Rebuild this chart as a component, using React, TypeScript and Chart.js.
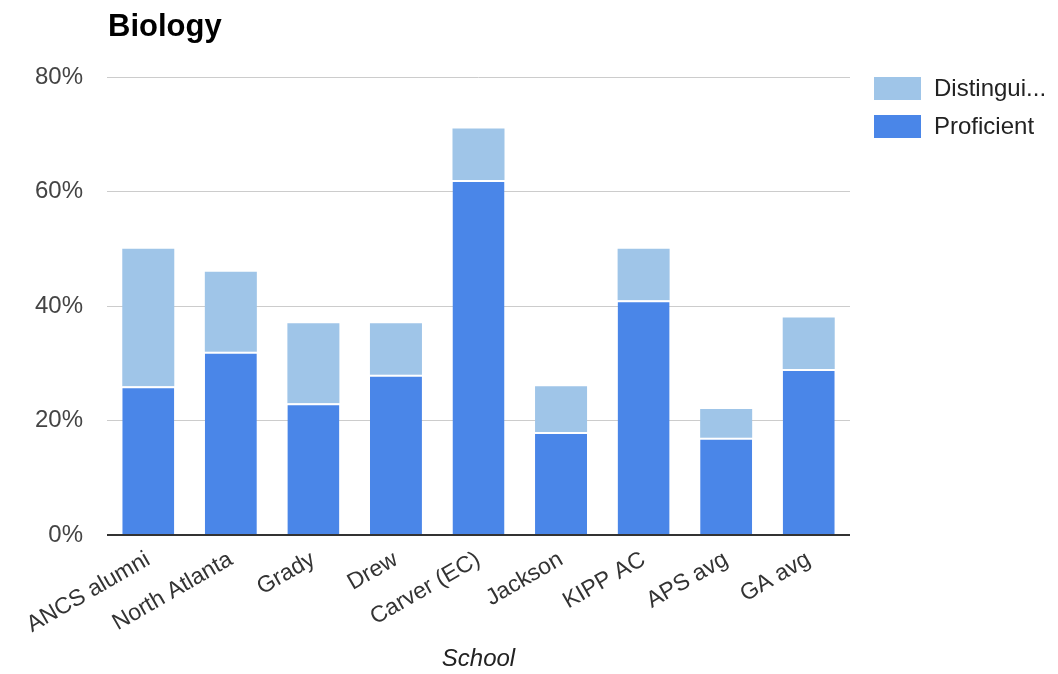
import React, { useEffect, useRef } from "react";
import { Chart, registerables } from "chart.js";

Chart.register(...registerables);

const schools = [
  "ANCS alumni",
  "North Atlanta",
  "Grady",
  "Drew",
  "Carver (EC)",
  "Jackson",
  "KIPP AC",
  "APS avg",
  "GA avg",
];
const proficient = [26, 32, 23, 28, 62, 18, 41, 17, 29];
const distinguished = [24, 14, 14, 9, 9, 8, 9, 5, 9];
const yTickValues = [0, 20, 40, 60, 80];
const chartTitle = "Biology";
const xAxisTitle = "School";
const seriesNames = ["Proficient", "Distinguished"];
const seriesColors = ["#4a86e8", "#9fc5e8"];

const FONT = '"Liberation Sans", Arial, Helvetica, sans-serif';

const overlayPlugin = {
  id: "overlay",
  afterDraw(chart: any) {
    const ctx = chart.ctx;
    const area = chart.chartArea;
    ctx.save();
    // title
    ctx.fillStyle = "#000";
    ctx.font = `bold 31px ${FONT}`;
    ctx.textAlign = "left";
    ctx.textBaseline = "alphabetic";
    ctx.fillText(chartTitle, area.left + 1, 36);

    // legend (reverse dataset order)
    const ds = chart.data.datasets;
    const boxX = area.right + 24;
    const boxW = 47;
    const boxH = 23;
    const textX = boxX + 60;
    const maxW = chart.width - textX - 4;
    ctx.font = `24px ${FONT}`;
    for (let i = ds.length - 1, row = 0; i >= 0; i--, row++) {
      const y = area.top + row * 38;
      ctx.fillStyle = ds[i].backgroundColor;
      ctx.fillRect(boxX, y, boxW, boxH);
      let label = String(ds[i].label);
      if (ctx.measureText(label).width > maxW) {
        while (label.length > 1 && ctx.measureText(label + "...").width > maxW) {
          label = label.slice(0, -1);
        }
        label = label + "...";
      }
      ctx.fillStyle = "#222";
      ctx.textBaseline = "middle";
      ctx.fillText(label, textX, y + boxH / 2 + 1);
    }
    ctx.restore();
  },
};

export default function App() {
  const ref = useRef<HTMLCanvasElement>(null);

  useEffect(() => {
    if (!ref.current) return;
    const chart = new Chart(ref.current, {
      type: "bar",
      data: {
        labels: schools,
        datasets: [
          {
            label: seriesNames[0],
            data: proficient,
            backgroundColor: seriesColors[0],
            borderColor: "#ffffff",
            borderWidth: { top: 2, left: 0, right: 0, bottom: 0 },
            borderSkipped: false,
            barPercentage: 0.63,
            categoryPercentage: 1,
          },
          {
            label: seriesNames[1],
            data: distinguished,
            backgroundColor: seriesColors[1],
            borderWidth: 0,
            barPercentage: 0.63,
            categoryPercentage: 1,
          },
        ],
      },
      options: {
        responsive: false,
        animation: false,
        layout: { padding: { top: 77, left: 0, right: 208, bottom: 0 } },
        plugins: {
          legend: { display: false },
          title: { display: false },
          tooltip: { enabled: false },
        },
        scales: {
          x: {
            stacked: true,
            grid: { display: false },
            border: { display: false },
            ticks: {
              minRotation: 30,
              maxRotation: 30,
              color: "#333",
              font: { family: FONT, size: 23 },
              padding: 3,
            },
            title: {
              display: true,
              text: xAxisTitle,
              color: "#222",
              font: { family: FONT, size: 24, style: "italic" },
              padding: { top: 0, bottom: 0 },
            },
            afterFit(scale: any) {
              scale.height = 139;
            },
          },
          y: {
            stacked: true,
            min: 0,
            max: 80,
            afterBuildTicks(scale: any) {
              scale.ticks = yTickValues.map((v) => ({ value: v }));
            },
            ticks: {
              stepSize: 20,
              padding: 24,
              color: "#444",
              font: { family: FONT, size: 24 },
              callback: (v: any) => `${v}%`,
            },
            grid: {
              drawTicks: false,
              color: (c: any) => (c.tick && c.tick.value === 0 ? "#333" : "#cccccc"),
              lineWidth: (c: any) => (c.tick && c.tick.value === 0 ? 2 : 1),
            },
            border: { display: false },
            afterFit(scale: any) {
              scale.width = 107;
            },
          },
        },
      },
      plugins: [overlayPlugin],
    });
    return () => chart.destroy();
  }, []);

  return (
    <div style={{ position: "fixed", left: 0, top: 0, width: 1058, height: 674, background: "#fff" }}>
      <canvas ref={ref} width={1058} height={674} style={{ display: "block" }} />
    </div>
  );
}
